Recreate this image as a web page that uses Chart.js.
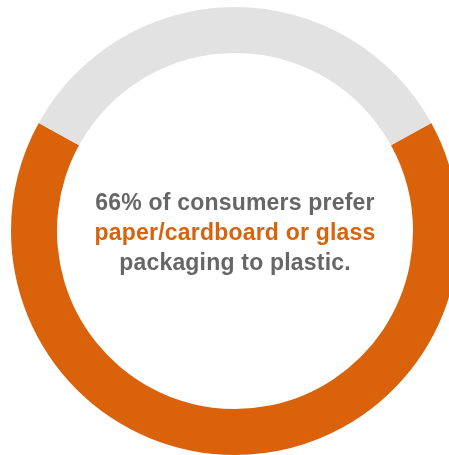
<!DOCTYPE html>
<html>
<head>
<meta charset="utf-8">
<script src="https://cdn.jsdelivr.net/npm/chart.js@4/dist/chart.umd.min.js"></script>
<style>
  html, body { margin: 0; padding: 0; background: #ffffff; overflow: hidden; width: 449px; height: 455px; }
  #wrap { position: absolute; left: 11px; top: 7px; width: 448px; height: 448px; }
</style>
</head>
<body>
<div id="wrap"><canvas id="chart"></canvas></div>
<script>
// Share of consumers by packaging preference
const categories = ['Paper/cardboard or glass', 'Plastic or no preference'];
const shares = [66, 34];
const sliceColors = ['#d9620a', '#e2e2e2'];

// Centre caption, one entry per line
const captionLines = ['66% of consumers prefer', 'paper/cardboard or glass', 'packaging to plastic.'];
const captionColors = ['#666666', '#d9620a', '#666666'];

const total = shares.reduce((a, b) => a + b, 0);

// Writes the caption in the hole of the ring
const centerCaption = {
  id: 'centerCaption',
  afterDraw(chart) {
    const { ctx, chartArea } = chart;
    const cx = (chartArea.left + chartArea.right) / 2;
    const cy = (chartArea.top + chartArea.bottom) / 2;
    const lineGap = 30;
    const first = -21;
    ctx.save();
    ctx.font = 'bold 23px "Liberation Sans", Arial, sans-serif';
    if ('letterSpacing' in ctx) ctx.letterSpacing = '0.2px';
    ctx.textAlign = 'center';
    ctx.textBaseline = 'alphabetic';
    captionLines.forEach((line, i) => {
      ctx.fillStyle = captionColors[i];
      ctx.fillText(line, cx, cy + first + i * lineGap);
    });
    ctx.restore();
  }
};

new Chart(document.getElementById('chart'), {
  type: 'doughnut',
  data: {
    labels: categories,
    datasets: [{
      data: shares,
      backgroundColor: sliceColors,
      borderWidth: 0,
      hoverOffset: 0
    }]
  },
  options: {
    responsive: true,
    maintainAspectRatio: false,
    animation: false,
    cutout: 178,
    // keep the smaller slice centred at the top
    rotation: 180 * shares[1] / total,
    layout: { padding: 0 },
    plugins: {
      legend: { display: false },
      tooltip: { enabled: false }
    }
  },
  plugins: [centerCaption]
});
</script>
</body>
</html>
